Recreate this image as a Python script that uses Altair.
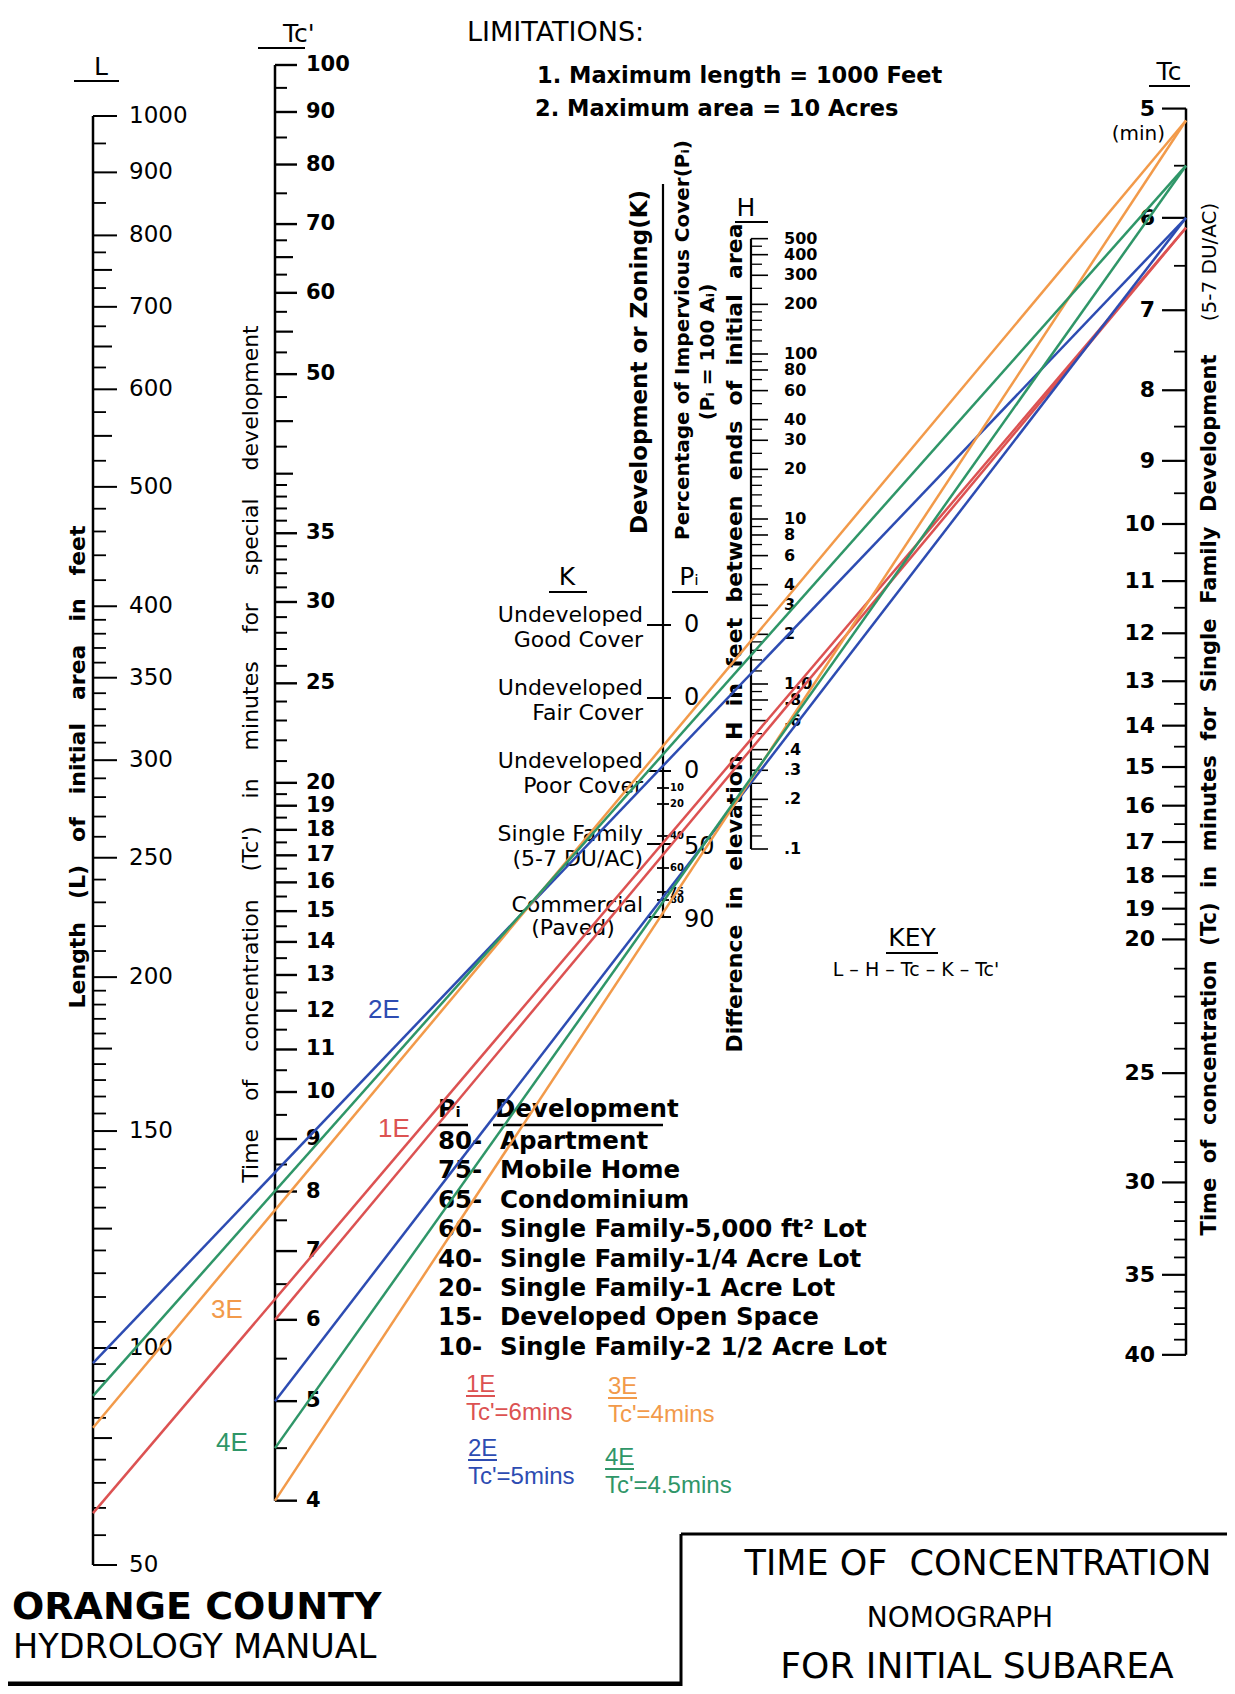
import math
import pandas as pd
import altair as alt

L_LABELS = [1000, 900, 800, 700, 600, 500, 400, 350, 300, 250, 200, 150, 100, 50]
L_MEDIUM = [750, 650, 550, 175, 125, 75]
L_MINOR = [950, 850, 775, 725, 675, 625, 575, 525, 480, 460, 440, 420,
           390, 380, 370, 360, 340, 330, 320, 310, 290, 280, 270, 260,
           240, 230, 220, 210, 195, 190, 185, 180, 170, 165, 160, 155,
           145, 140, 135, 130, 120, 115, 110, 105, 95, 90, 85, 80, 70, 65, 60, 55]

TCP_LABELS = [100, 90, 80, 70, 60, 50, 35, 30, 25, 20, 19, 18, 17, 16, 15,
              14, 13, 12, 11, 10, 9, 8, 7, 6, 5, 4]
TCP_MEDIUM = [65, 55, 45, 40]
TCP_MINOR = [95, 85, 75, 67.5, 62.5, 57.5, 52.5, 47.5, 42.5, 39, 38, 37, 36,
             34, 33, 32, 31, 29, 28, 27, 26, 24, 23, 22, 21,
             19.5, 18.5, 17.5, 16.5, 15.5, 14.5, 13.5, 12.5, 11.5, 10.5,
             9.5, 8.5, 7.5, 6.5, 5.5, 4.5]

TC_LABELS = [5, 6, 7, 8, 9, 10, 11, 12, 13, 14, 15, 16, 17, 18, 19, 20, 25, 30, 35, 40]
TC_MINOR = [5.5, 6.5, 7.5, 8.5, 9.5, 10.5, 11.5, 12.5, 13.5, 14.5, 15.5, 16.5,
            17.5, 18.5, 19.5, 21, 22, 23, 24, 26, 27, 28, 29, 31, 32, 33, 34,
            36, 37, 38, 39]

H_LABELS = [500, 400, 300, 200, 100, 80, 60, 40, 30, 20, 10, 8, 6, 4, 3, 2,
            1, 0.8, 0.6, 0.4, 0.3, 0.2, 0.1]
H_TEXT = ["500", "400", "300", "200", "100", "80", "60", "40", "30", "20",
          "10", "8", "6", "4", "3", "2", "1.0", ".8", ".6", ".4", ".3", ".2", ".1"]
H_MINOR = [450, 350, 250, 180, 160, 140, 120, 90, 70, 50, 35, 25, 18, 16, 14, 12,
           9, 7, 5, 3.5, 2.5, 1.8, 1.6, 1.4, 1.2, 0.9, 0.7, 0.5, 0.35, 0.25,
           0.18, 0.16, 0.14, 0.12]

K_LINE1 = ["Undeveloped", "Undeveloped", "Undeveloped", "Single Family", "Commercial"]
K_LINE2 = ["Good Cover", "Fair Cover", "Poor Cover", "(5-7 DU/AC)", "(Paved)"]
K_PI = ["0", "0", "0", "50", "90"]
PI_SMALL = [10, 20, 40, 60, 75, 80]

DEV_PI = ["80", "75", "65", "60", "40", "20", "15", "10"]
DEV_NAMES = ["Apartment", "Mobile Home", "Condominium",
             "Single Family-5,000 ft\u00b2 Lot", "Single Family-1/4 Acre Lot",
             "Single Family-1 Acre Lot", "Developed Open Space",
             "Single Family-2 1/2 Acre Lot"]

EXAMPLES = ["1E", "2E", "3E", "4E"]
EX_L = [59, 95.3, 77.5, 85.8]      # L where the L-H-Tc line starts
EX_TCP = [6, 5, 4, 4.5]            # Tc' where the Tc-K-Tc' line ends
EX_TC = [6.1, 6.0, 5.1, 5.5]       # Tc where both lines meet

# ---------------- layout / style ----------------
EX_COLORS = ["#dc5252", "#2d4cb2", "#f29a4a", "#2f9668"]
FONT = "DejaVu Sans"
ARIAL = "Liberation Sans"
XL, XTCP, XK, XH, XTC = 93, 275, 663, 751, 1186
NB = "\u00a0"


def yL(v):
    if v >= 100:
        return 116 + (3 - math.log10(v)) * 1232
    return 1348 + (2 - math.log10(v)) / math.log10(2) * 217


def yTcp(v):
    return 65 + (2 - math.log10(v)) * 1027


def yTc(v):
    return 524 + math.log10(v / 10) * 1380


def yH(v):
    return 354 + (2 - math.log10(v)) * 165


def yK(i):
    return 625 + i * 73


def yPi(p):
    return 772 + p * 1.6


def gap(text, n):
    return (NB * n).join(text.split())


rules, lines, texts = [], [], []


def R(x, y, x2, y2, color="black", w=2.0, store=None):
    (store if store is not None else rules).append(
        dict(x=x, y=y, x2=x2, y2=y2, color=color, w=w))


def T(x, y, text, size, color="black", angle=0, font=FONT, weight="normal",
      align="left", baseline="middle"):
    texts.append(dict(x=x, y=y, text=text, size=size, color=color, angle=angle,
                      font=font, weight=weight, align=align, baseline=baseline))


# ---- L axis ----
R(XL, yL(1000), XL, yL(50), w=2.5)
for v in L_LABELS:
    R(XL, yL(v), XL + 24, yL(v))
    T(XL + 36, yL(v), str(v), 23)
for v in L_MEDIUM:
    R(XL, yL(v), XL + 19, yL(v))
for v in L_MINOR:
    R(XL, yL(v), XL + 13, yL(v), w=1.8)
T(94, 67, "L", 25)
R(74, 81, 119, 81, w=2)
T(78, 767, gap("Length (L) of initial area in feet", 3), 22, angle=270,
  weight="bold", align="center")

# ---- Tc' axis ----
R(XTCP, yTcp(100), XTCP, yTcp(4), w=2.5)
for v in TCP_LABELS:
    R(XTCP, yTcp(v), XTCP + 22, yTcp(v), w=2.4)
    T(XTCP + 31, yTcp(v), f"{v:g}", 21, weight="bold")
for v in TCP_MEDIUM:
    R(XTCP, yTcp(v), XTCP + 18, yTcp(v), w=2.2)
for v in TCP_MINOR:
    R(XTCP, yTcp(v), XTCP + 12, yTcp(v), w=2.0)
T(283, 34, "Tc'", 25)
R(258, 48, 305, 48, w=2)
T(251, 754, gap("Time of concentration (Tc') in minutes for special development", 4),
  22, angle=270, align="center")

# ---- Tc axis (right) ----
R(XTC, yTc(5), XTC, yTc(40), w=2.5)
for v in TC_LABELS:
    R(XTC - 24, yTc(v), XTC, yTc(v), w=2.2)
    T(XTC - 31, yTc(v), f"{v:g}", 22, weight="bold", align="right")
for v in TC_MINOR:
    R(XTC - 12, yTc(v), XTC, yTc(v), w=1.8)
T(1165, 134, "(min)", 20, align="right")
T(1169, 72, "Tc", 25, align="center")
R(1149, 86, 1190, 86, w=2)
T(1210, 795, gap("Time of concentration (Tc) in minutes for Single Family Development", 2),
  21, angle=270, weight="bold", align="center")
T(1210, 262, "(5-7 DU/AC)", 20, angle=270, align="center")

# ---- H axis ----
R(XH, yH(500), XH, yH(0.1), w=2.2)
for v, s in zip(H_LABELS, H_TEXT):
    R(XH, yH(v), XH + 17, yH(v), w=1.6)
    T(XH + 33, yH(v), s, 16, weight="bold")
for v in H_MINOR:
    R(XH, yH(v), XH + 11, yH(v), w=1.3)
T(746, 208, "H", 25, align="center")
R(735, 222, 768, 222, w=2)

# ---- K / Pi axis ----
R(XK, 184, XK, yK(4), w=2.2)
for i, (a, b, p) in enumerate(zip(K_LINE1, K_LINE2, K_PI)):
    R(XK - 16, yK(i), XK + 8, yK(i), w=2)
    if b == "(Paved)":
        T(643, yK(i) - 12, a, 22, align="right")
        T(573, yK(i) + 11, b, 22, align="center")
    else:
        T(643, yK(i) - 10, a, 22, align="right")
        T(643, yK(i) + 15, b, 22, align="right")
    T(684, yK(i) + (3 if p != "0" else 0), p, 24)
for p in PI_SMALL:
    R(XK - 6, yPi(p), XK + 6, yPi(p), w=1.8)
    T(XK + 7, yPi(p), str(p), 10, weight="bold")
T(567, 577, "K", 25, align="center")
R(549, 592, 587, 592, w=2)
T(689, 577, "P\u1d62", 25, align="center")
R(672, 592, 708, 592, w=2)
T(640, 362, "Development or Zoning(K)", 23, angle=270, weight="bold", align="center")
T(683, 340, "Percentage of Impervious Cover(P\u1d62)", 20, angle=270, weight="bold",
  align="center")
T(708, 352, "(P\u1d62 = 100 A\u1d62)", 20, angle=270, weight="bold", align="center")
T(735, 638, gap("Difference in elevation H in feet between ends of initial area", 2),
  22, angle=270, weight="bold", align="center")

# ---- limitations / key ----
T(467, 33, "LIMITATIONS:", 27)
T(537, 76, "1. Maximum length = 1000 Feet", 22.5, weight="bold")
T(535, 109, "2. Maximum area = 10 Acres", 22.5, weight="bold")
T(912, 938, "KEY", 25, align="center")
R(886, 953, 938, 953, w=2)
T(916, 970, "L \u2013 H \u2013 Tc \u2013 K \u2013 Tc'", 19, align="center")

# ---- development table ----
T(438, 1110, "P\u1d62", 24, weight="bold")
T(495, 1110, "Development", 24.5, weight="bold")
R(437, 1125, 468, 1125, w=2.5)
R(493, 1125, 663, 1125, w=2.5)
for i, (p, name) in enumerate(zip(DEV_PI, DEV_NAMES)):
    yy = 1142 + i * 29.4
    T(438, yy, f"{p}-", 24.5, weight="bold")
    T(500, yy, name, 24.5, weight="bold")

# ---- example legend ----
leg_pos = [(466, 1385), (468, 1449), (608, 1387), (605, 1458)]
for name, tcp, col, (lx, ly) in zip(EXAMPLES, EX_TCP, EX_COLORS, leg_pos):
    T(lx, ly, name, 24, color=col, font=ARIAL)
    R(lx, ly + 11, lx + 29, ly + 11, color=col, w=2)
    T(lx, ly + 28, f"Tc'={tcp:g}mins", 24, color=col, font=ARIAL)

# ---- example lines ----
lab_pos = [(394, 1129), (384, 1010), (227, 1310), (232, 1443)]
for name, L, tcp, tc, col, (lx, ly) in zip(EXAMPLES, EX_L, EX_TCP, EX_TC, EX_COLORS, lab_pos):
    R(XL, yL(L), XTC, yTc(tc), color=col, w=2.5, store=lines)
    R(XTCP, yTcp(tcp), XTC, yTc(tc), color=col, w=2.5, store=lines)
    T(lx, ly, name, 26, color=col, font=ARIAL, align="center")

# ---- titles ----
T(12, 1608, "ORANGE COUNTY", 38, weight="bold")
T(13, 1648, "HYDROLOGY MANUAL", 33.5)
R(681, 1534, 1240, 1534, w=3)
R(681, 1534, 681, 1700, w=3)
R(0, 1684, 681, 1684, w=5)
T(978, 1564, "TIME OF" + NB + NB + "CONCENTRATION", 35, align="center")
T(960, 1619, "NOMOGRAPH", 28, align="center")
T(977, 1667, "FOR INITIAL SUBAREA", 36, align="center")

# ---------------- chart ----------------
xs = alt.Scale(domain=[8, 1227], nice=False, zero=False)
ys = alt.Scale(domain=[8, 1686], nice=False, zero=False, reverse=True)


def rule_layer(rows):
    return alt.Chart(pd.DataFrame(rows)).mark_rule().encode(
        x=alt.X("x:Q", scale=xs, axis=None), x2="x2:Q",
        y=alt.Y("y:Q", scale=ys, axis=None), y2="y2:Q",
        color=alt.Color("color:N", scale=None),
        strokeWidth=alt.StrokeWidth("w:Q", scale=None))


def text_layers(rows):
    df = pd.DataFrame(rows)
    out = []
    for (font, weight, align, baseline), g in df.groupby(["font", "weight", "align", "baseline"]):
        out.append(alt.Chart(g.reset_index(drop=True)).mark_text(
            font=font, fontWeight=weight, align=align, baseline=baseline).encode(
            x=alt.X("x:Q", scale=xs, axis=None),
            y=alt.Y("y:Q", scale=ys, axis=None),
            text="text:N",
            size=alt.Size("size:Q", scale=None, legend=None),
            color=alt.Color("color:N", scale=None),
            angle=alt.Angle("angle:Q", scale=None)))
    return out


chart = alt.layer(rule_layer(rules), *text_layers(texts), rule_layer(lines)).properties(
    width=1219, height=1678, padding=0,
    autosize=alt.AutoSizeParams(type="none"),
).configure_view(stroke=None)

chart.save("out.html", embed_options={"renderer": "svg", "actions": False})
